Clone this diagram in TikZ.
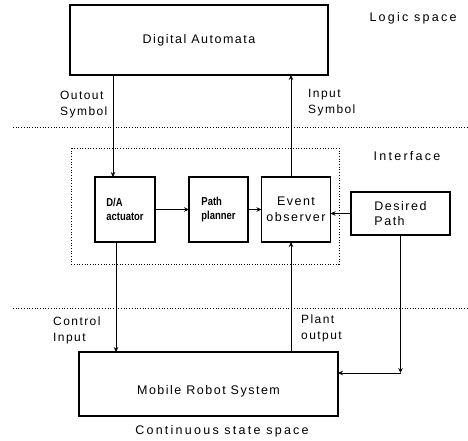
\documentclass[tikz,border=0pt]{standalone}
\usepackage{fontspec}
\setmainfont{Liberation Sans}[LetterSpace=12]
\newfontfamily\condfont{Liberation Sans}[FakeStretch=0.82]
\newfontfamily\widefont{Liberation Sans}[LetterSpace=18]
\usetikzlibrary{arrows.meta}
\begin{document}
\begin{tikzpicture}[x=1pt,y=-1pt,
  box/.style={draw,line width=1.2pt,inner sep=0pt,outer sep=0pt,font=\fontsize{12.5}{15.5}\selectfont,align=center},
  smallbox/.style={box,font=\condfont\bfseries\fontsize{11.5}{14}\selectfont,align=left},
  arr/.style={line width=0.9pt,-{Stealth[length=5pt,width=4.5pt]}},
  sep/.style={dotted,line width=0.7pt},
  lbl/.style={font=\fontsize{12}{16}\selectfont,align=left,inner sep=0pt},
  zone/.style={font=\widefont\fontsize{12.5}{14}\selectfont,inner sep=0pt}]
\path[use as bounding box] (0,0) rectangle (468,441);

% space separators
\draw[sep] (13,127) -- (468,127);
\draw[sep] (13,308) -- (468,308);

% interface frame
\draw[sep] (71,148) rectangle (339,264);

% blocks
\node[box,minimum width=258pt,minimum height=70pt] (top) at (199,40) {Digital Automata};
\node[smallbox,minimum width=60pt,minimum height=65pt] (da) at (125,209.5) {D/A\\actuator};
\node[smallbox,minimum width=59pt,minimum height=65pt] (pp) at (218.5,209.5) {Path\\planner};
\node[box,minimum width=69pt,minimum height=65pt] (eo) at (296,209.5) {Event\\observer};
\node[box,minimum width=99pt,minimum height=43pt,align=left] (dp) at (400.5,213.5) {Desired\\Path};
\node[box,minimum width=259pt,minimum height=64pt,text height=21pt,text depth=0pt] (mr) at (208.5,384) {Mobile Robot System};

% zone captions
\node[zone] (logic) at (413,18) {Logic space};
\node[zone] (iface) at (407,156) {Interface};
\node[zone] (cont) at (222,431) {Continuous state space};

% connector anchors
\coordinate (daTop) at ([xshift=-12pt]da.north);
\coordinate (daBot) at ([xshift=-9pt]da.south);
\coordinate (eoTop) at ([xshift=-5pt]eo.north);
\coordinate (eoBot) at ([xshift=-5pt]eo.south);
\coordinate (mrIn) at ([yshift=11pt]mr.east);
\coordinate (turn) at (dp.south |- mrIn);

% connectors
\draw[arr] (top.south -| daTop) -- (daTop);
\draw[arr] (eoTop) -- (eoTop |- top.south);
\draw[arr] (da.east) -- (pp.west);
\draw[arr] (pp.east) -- (eo.west);
\draw[arr] (dp.west) -- (dp.west -| eo.east);
\draw[arr] (daBot) -- (daBot |- mr.north);
\draw[arr] (eoBot |- mr.north) -- (eoBot);
\draw[arr] (dp.south) -- (turn);
\draw[arr] (turn) -- (mrIn);

% connector labels
\node[lbl,anchor=north west] (outsym) at (60,91) {Outout\\Symbol};
\node[lbl,anchor=north west] (insym) at (308,89) {Input\\Symbol};
\node[lbl,anchor=north west] (ctrl) at (53,317) {Control\\Input};
\node[lbl,anchor=north west] (plant) at (301,315) {Plant\\output};
\end{tikzpicture}
\end{document}
